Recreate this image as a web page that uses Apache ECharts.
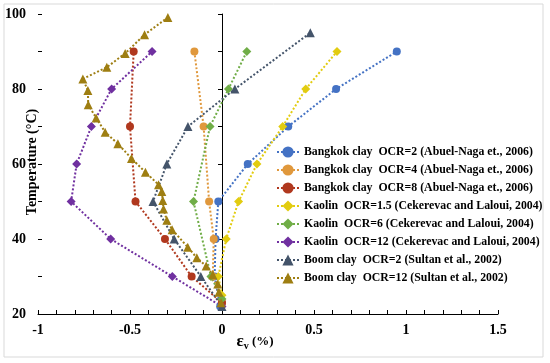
<!DOCTYPE html>
<html>
<head>
<meta charset="utf-8">
<script src="https://cdn.jsdelivr.net/npm/echarts@6/dist/echarts.min.js"></script>
<style>html,body{margin:0;padding:0;background:#fff;}#c{width:550px;height:363px;}</style>
</head>
<body>
<div id="c"></div>
<script>
// Series names
const names = [
  'Bangkok clay  OCR=2 (Abuel-Naga et., 2006)',
  'Bangkok clay  OCR=4 (Abuel-Naga et., 2006)',
  'Bangkok clay  OCR=8 (Abuel-Naga et., 2006)',
  'Kaolin  OCR=1.5 (Cekerevac and Laloui, 2004)',
  'Kaolin  OCR=6 (Cekerevac and Laloui, 2004)',
  'Kaolin  OCR=12 (Cekerevac and Laloui, 2004)',
  'Boom clay  OCR=2 (Sultan et al., 2002)',
  'Boom clay  OCR=12 (Sultan et al., 2002)'
];
// volumetric strain (%) and temperature (°C)
const bk2X = [-0.01, -0.04, -0.035, -0.02, 0.14, 0.36, 0.62, 0.95];
const bk2Y = [22, 30, 40, 50, 60, 70, 80, 90];
const bk4X = [0, -0.05, -0.045, -0.07, -0.10, -0.15];
const bk4Y = [23, 30, 40, 50, 70, 90];
const bk8X = [0, -0.165, -0.31, -0.47, -0.50, -0.48];
const bk8Y = [23, 30, 40, 50, 70, 90];
const ka15X = [0, -0.02, 0.023, 0.09, 0.19, 0.33, 0.455, 0.625];
const ka15Y = [25, 30, 40, 50, 60, 70, 80, 90];
const ka6X = [0, -0.06, -0.155, -0.065, 0.035, 0.135];
const ka6Y = [24, 30, 50, 70, 80, 90];
const ka12X = [0, -0.27, -0.605, -0.82, -0.79, -0.71, -0.60, -0.38];
const ka12Y = [22, 30, 40, 50, 60, 70, 80, 90];
const bo2X = [0, -0.115, -0.26, -0.375, -0.30, -0.185, 0.07, 0.48];
const bo2Y = [22, 30, 40, 50, 60, 70, 80, 95];
const bo12X = [-0.005, -0.017, -0.023, -0.05, -0.086, -0.137, -0.186, -0.271, -0.30, -0.318, -0.322, -0.327, -0.345, -0.416, -0.492, -0.566, -0.635, -0.684, -0.727, -0.729, -0.756, -0.626, -0.526, -0.421, -0.294];
const bo12Y = [23, 25.8, 28, 30.5, 32.8, 35, 37.8, 42.5, 45, 48, 50.3, 52.7, 54.5, 57.8, 61.5, 65.4, 68.5, 72.3, 75.8, 79.6, 82.7, 85.8, 89.5, 94.5, 99.1];

const xs = [bk2X, bk4X, bk8X, ka15X, ka6X, ka12X, bo2X, bo12X];
const ys = [bk2Y, bk4Y, bk8Y, ka15Y, ka6Y, ka12Y, bo2Y, bo12Y];
const colors = ['#4472C4', '#E0983C', '#B0381E', '#E2CC10', '#70AD47', '#7030A0', '#44546A', '#9E7E12'];
const symbols = ['circle', 'circle', 'circle', 'diamond', 'diamond', 'diamond', 'triangle', 'triangle'];

const font = 'Liberation Serif';
const series = names.map((n, i) => ({
  name: n,
  type: 'line',
  data: xs[i].map((x, j) => [x, ys[i][j]]),
  symbol: symbols[i],
  symbolSize: symbols[i] === 'circle' ? 8 : 9,
  lineStyle: { type: 'dotted', width: 2, color: colors[i] },
  itemStyle: { color: colors[i] },
  showSymbol: true,
  animation: false
}));

const chart = echarts.init(document.getElementById('c'));
chart.setOption({
  backgroundColor: '#fff',
  animation: false,
  grid: { left: 38, right: 52, top: 14, bottom: 49 },
  xAxis: {
    type: 'value', min: -1, max: 1.5, interval: 0.1,
    axisLine: { lineStyle: { color: '#000', width: 1 } },
    axisTick: { inside: true, length: 4, lineStyle: { color: '#000' } },
    splitLine: { show: false },
    axisLabel: {
      margin: 9, color: '#000', fontFamily: font, fontWeight: 'bold', fontSize: 14,
      formatter: v => (Math.round(v * 10) % 5 === 0 ? String(Math.round(v * 10) / 10) : '')
    }
  },
  yAxis: [{
    type: 'value', min: 20, max: 100, interval: 10,
    axisLine: { show: true, onZero: true, lineStyle: { color: '#000', width: 1 } },
    axisTick: { show: true, inside: false, length: 4, lineStyle: { color: '#000' } },
    splitLine: { show: false },
    axisLabel: {
      margin: 12, color: '#000', fontFamily: font, fontWeight: 'bold', fontSize: 14,
      formatter: v => (v % 20 === 0 ? String(v) : '')
    }
  }, {
    type: 'value', min: 20, max: 100, interval: 10, position: 'left',
    axisLine: { show: false, onZero: true },
    axisTick: { show: true, inside: true, length: 4, lineStyle: { color: '#000' } },
    splitLine: { show: false },
    axisLabel: { show: false }
  }],
  legend: {
    orient: 'vertical', left: 271, top: 141, itemWidth: 22, itemHeight: 14, itemGap: 6,
    textStyle: { color: '#000', fontFamily: font, fontWeight: 'bold', fontSize: 11.8 },
    data: names
  },
  graphic: [
    { type: 'rect', shape: { x: 4, y: 4, width: 539, height: 353 }, style: { fill: 'none', stroke: '#d9d9d9', lineWidth: 1 }, silent: true },
    {
      type: 'text', x: 32, y: 162, rotation: Math.PI / 2, silent: true,
      style: { text: 'Temperature (°C)', fill: '#000', font: 'bold 14px "Liberation Serif"', align: 'center', verticalAlign: 'middle' }
    },
    {
      type: 'text', x: 255, y: 342, silent: true,
      style: {
        text: '{a|ε}{b|v}{c| (%)}', align: 'center', verticalAlign: 'middle',
        rich: {
          a: { fontFamily: font, fontWeight: 'bold', fontSize: 17, fill: '#000' },
          b: { fontFamily: font, fontWeight: 'bold', fontSize: 10, fill: '#000', padding: [8, 0, 0, 0] },
          c: { fontFamily: font, fontWeight: 'bold', fontSize: 13, fill: '#000' }
        }
      }
    }
  ],
  series: series
});
</script>
</body>
</html>
